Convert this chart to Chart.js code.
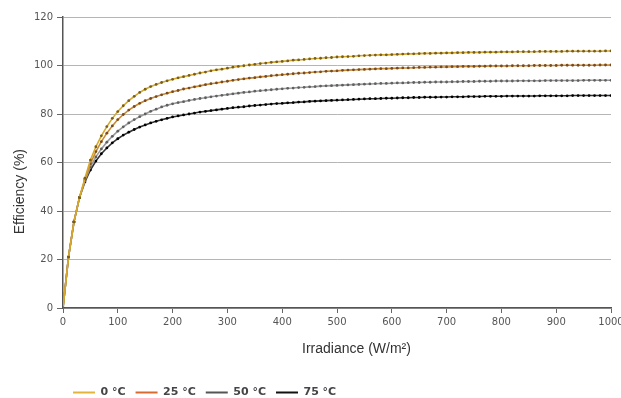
<!DOCTYPE html>
<html lang="en">
<head>
    <meta charset="UTF-8">
    <title>Efficiency vs Irradiance</title>
    <script src="https://cdn.jsdelivr.net/npm/chart.js"></script>
    <style>
        html, body { margin: 0; padding: 0; background: #fff; }
        #wrap { width: 621px; height: 398px; }
    </style>
</head>
<body>
    <div id="wrap"><canvas id="grafico"></canvas></div>

    <script>
        // Irradiance (W/m2), one point every 10
        var irradiance = [
            0, 10, 20, 30, 40, 50, 60, 70, 80, 90,
            100, 110, 120, 130, 140, 150, 160, 170, 180, 190,
            200, 210, 220, 230, 240, 250, 260, 270, 280, 290,
            300, 310, 320, 330, 340, 350, 360, 370, 380, 390,
            400, 410, 420, 430, 440, 450, 460, 470, 480, 490,
            500, 510, 520, 530, 540, 550, 560, 570, 580, 590,
            600, 610, 620, 630, 640, 650, 660, 670, 680, 690,
            700, 710, 720, 730, 740, 750, 760, 770, 780, 790,
            800, 810, 820, 830, 840, 850, 860, 870, 880, 890,
            900, 910, 920, 930, 940, 950, 960, 970, 980, 990,
            1000
        ];

        // Efficiency (%) for each temperature
        var eff0 = [
            0, 21.0, 35.5, 45.5, 53.5, 61.0, 66.5, 71.0, 74.8, 78.2,
            81.0, 83.4, 85.5, 87.3, 88.9, 90.2, 91.3, 92.2, 93.0, 93.7,
            94.3, 94.9, 95.4, 95.9, 96.4, 96.9, 97.3, 97.8, 98.2, 98.5,
            98.9, 99.3, 99.6, 99.9, 100.2, 100.5, 100.8, 101.0, 101.3, 101.5,
            101.7, 101.9, 102.2, 102.3, 102.5, 102.7, 102.9, 103.0, 103.2, 103.3,
            103.5, 103.6, 103.7, 103.8, 104.0, 104.1, 104.2, 104.3, 104.4, 104.4,
            104.5, 104.6, 104.7, 104.8, 104.8, 104.9, 105.0, 105.0, 105.1, 105.1,
            105.2, 105.2, 105.3, 105.3, 105.4, 105.4, 105.4, 105.5, 105.5, 105.5,
            105.6, 105.6, 105.6, 105.7, 105.7, 105.7, 105.7, 105.8, 105.8, 105.8,
            105.8, 105.8, 105.9, 105.9, 105.9, 105.9, 105.9, 105.9, 105.9, 106.0,
            106.0
        ];
        var eff25 = [
            0, 21.0, 35.5, 45.5, 53.0, 59.5, 64.5, 68.6, 72.1, 75.1,
            77.7, 79.8, 81.6, 83.1, 84.4, 85.5, 86.4, 87.2, 87.9, 88.6,
            89.2, 89.7, 90.3, 90.7, 91.2, 91.6, 92.1, 92.5, 92.8, 93.2,
            93.5, 93.9, 94.2, 94.5, 94.8, 95.0, 95.3, 95.5, 95.8, 96.0,
            96.2, 96.4, 96.6, 96.8, 96.9, 97.1, 97.3, 97.4, 97.6, 97.7,
            97.8, 98.0, 98.1, 98.2, 98.3, 98.4, 98.5, 98.6, 98.7, 98.7,
            98.8, 98.9, 99.0, 99.0, 99.1, 99.2, 99.2, 99.3, 99.3, 99.4,
            99.4, 99.5, 99.5, 99.6, 99.6, 99.6, 99.7, 99.7, 99.8, 99.8,
            99.8, 99.8, 99.9, 99.9, 99.9, 99.9, 100.0, 100.0, 100.0, 100.0,
            100.0, 100.1, 100.1, 100.1, 100.1, 100.1, 100.1, 100.1, 100.2, 100.2,
            100.2
        ];
        var eff50 = [
            0, 21.0, 35.5, 45.5, 52.5, 58.2, 62.3, 65.6, 68.4, 70.8,
            72.9, 74.7, 76.3, 77.7, 78.9, 80.0, 81.1, 82.0, 82.9, 83.6,
            84.2, 84.7, 85.1, 85.6, 86.0, 86.4, 86.7, 87.1, 87.4, 87.7,
            88.0, 88.3, 88.6, 88.9, 89.1, 89.4, 89.6, 89.8, 90.0, 90.2,
            90.4, 90.6, 90.7, 90.9, 91.0, 91.2, 91.3, 91.5, 91.6, 91.7,
            91.8, 91.9, 92.0, 92.1, 92.2, 92.3, 92.4, 92.5, 92.6, 92.6,
            92.7, 92.8, 92.8, 92.9, 93.0, 93.0, 93.1, 93.1, 93.2, 93.2,
            93.2, 93.3, 93.3, 93.4, 93.4, 93.4, 93.5, 93.5, 93.5, 93.6,
            93.6, 93.6, 93.6, 93.7, 93.7, 93.7, 93.7, 93.7, 93.8, 93.8,
            93.8, 93.8, 93.8, 93.8, 93.8, 93.9, 93.9, 93.9, 93.9, 93.9,
            93.9
        ];
        var eff75 = [
            0, 21.0, 35.5, 45.5, 52.0, 56.9, 60.6, 63.6, 66.0, 68.1,
            69.8, 71.3, 72.5, 73.6, 74.6, 75.5, 76.3, 77.0, 77.6, 78.2,
            78.8, 79.2, 79.6, 80.0, 80.4, 80.8, 81.1, 81.4, 81.7, 82.0,
            82.3, 82.6, 82.8, 83.0, 83.3, 83.5, 83.7, 83.9, 84.1, 84.3,
            84.4, 84.6, 84.7, 84.9, 85.0, 85.2, 85.3, 85.4, 85.5, 85.6,
            85.7, 85.8, 85.9, 86.0, 86.1, 86.2, 86.3, 86.3, 86.4, 86.5,
            86.5, 86.6, 86.7, 86.7, 86.8, 86.8, 86.9, 86.9, 86.9, 87.0,
            87.0, 87.1, 87.1, 87.1, 87.2, 87.2, 87.2, 87.3, 87.3, 87.3,
            87.3, 87.4, 87.4, 87.4, 87.4, 87.4, 87.4, 87.5, 87.5, 87.5,
            87.5, 87.5, 87.5, 87.6, 87.6, 87.6, 87.6, 87.6, 87.6, 87.6,
            87.6
        ];

        var seriesNames = ["0 °C", "25 °C", "50 °C", "75 °C"];

        // colours: line, dot, legend swatch
        var lineColors = ["#d6a82c", "#c98a32", "#9a9a9a", "#333333"];
        var dotColors = ["#7a5e14", "#7a4a1c", "#606060", "#000000"];
        var legendColors = ["#e2b43c", "#d66a30", "#555555", "#111111"];

        function toPoints(values) {
            return irradiance.map(function (x, i) {
                return { x: x, y: values[i] };
            });
        }

        var allSeries = [eff0, eff25, eff50, eff75];
        var datasets = allSeries.map(function (values, i) {
            return {
                label: seriesNames[i],
                data: toPoints(values),
                borderColor: lineColors[i],
                backgroundColor: lineColors[i],
                borderWidth: 1.6,
                pointRadius: 1.4,
                pointBorderWidth: 0,
                pointBackgroundColor: dotColors[i],
                tension: 0,
                fill: false
            };
        });

        var tickFont = { family: "DejaVu Sans", size: 10 };
        var titleFont = { family: "Liberation Sans", size: 14 };

        var ctx = document.getElementById("grafico").getContext("2d");
        var grafico = new Chart(ctx, {
            type: "line",
            data: { datasets: datasets },
            options: {
                responsive: true,
                maintainAspectRatio: false,
                animation: false,
                layout: { padding: { top: 17, right: 0, bottom: 0, left: 0 } },
                plugins: {
                    tooltip: { enabled: false },
                    legend: {
                        position: "bottom",
                        align: "start",
                        fullSize: false,
                        maxHeight: 21,
                        labels: {
                            boxWidth: 22,
                            boxHeight: 2,
                            padding: 10,
                            color: "#444",
                            font: { family: "DejaVu Sans", size: 11, weight: "bold" },
                            generateLabels: function (chart) {
                                var items = Chart.defaults.plugins.legend.labels.generateLabels(chart);
                                items.forEach(function (it, i) {
                                    it.fillStyle = legendColors[i];
                                    it.strokeStyle = legendColors[i];
                                    it.lineWidth = 0;
                                });
                                return items;
                            }
                        }
                    }
                },
                scales: {
                    x: {
                        type: "linear",
                        min: 0,
                        max: 1000,
                        ticks: {
                            stepSize: 100,
                            color: "#555",
                            font: tickFont,
                            padding: 3,
                            maxRotation: 0,
                            callback: function (value) { return String(value); }
                        },
                        grid: { drawOnChartArea: false, drawTicks: true, tickLength: 5, tickColor: "#666" },
                        border: { color: "#555", width: 1.5 },
                        title: {
                            display: true,
                            // leading spaces move the label right of centre, like the original
                            text: "          Irradiance (W/m²)",
                            color: "#333",
                            font: titleFont,
                            padding: { top: 0, bottom: 19 }
                        },
                        afterFit: function (scale) {
                            scale.height = 69;
                            scale.paddingRight = 10;
                        }
                    },
                    y: {
                        min: 0,
                        max: 120,
                        ticks: { stepSize: 20, color: "#555", font: tickFont, padding: 4 },
                        grid: { color: "#b5b5b5", tickColor: "#666", tickLength: 6, lineWidth: 1 },
                        border: { color: "#555", width: 1.5 },
                        title: {
                            display: true,
                            // trailing spaces push the label a bit below the middle, as in the original
                            text: "Efficiency (%)               ",
                            color: "#333",
                            font: titleFont,
                            padding: { top: 12, bottom: 0 }
                        },
                        afterFit: function (scale) {
                            scale.width = 63;
                        }
                    }
                }
            }
        });
    </script>
</body>
</html>
